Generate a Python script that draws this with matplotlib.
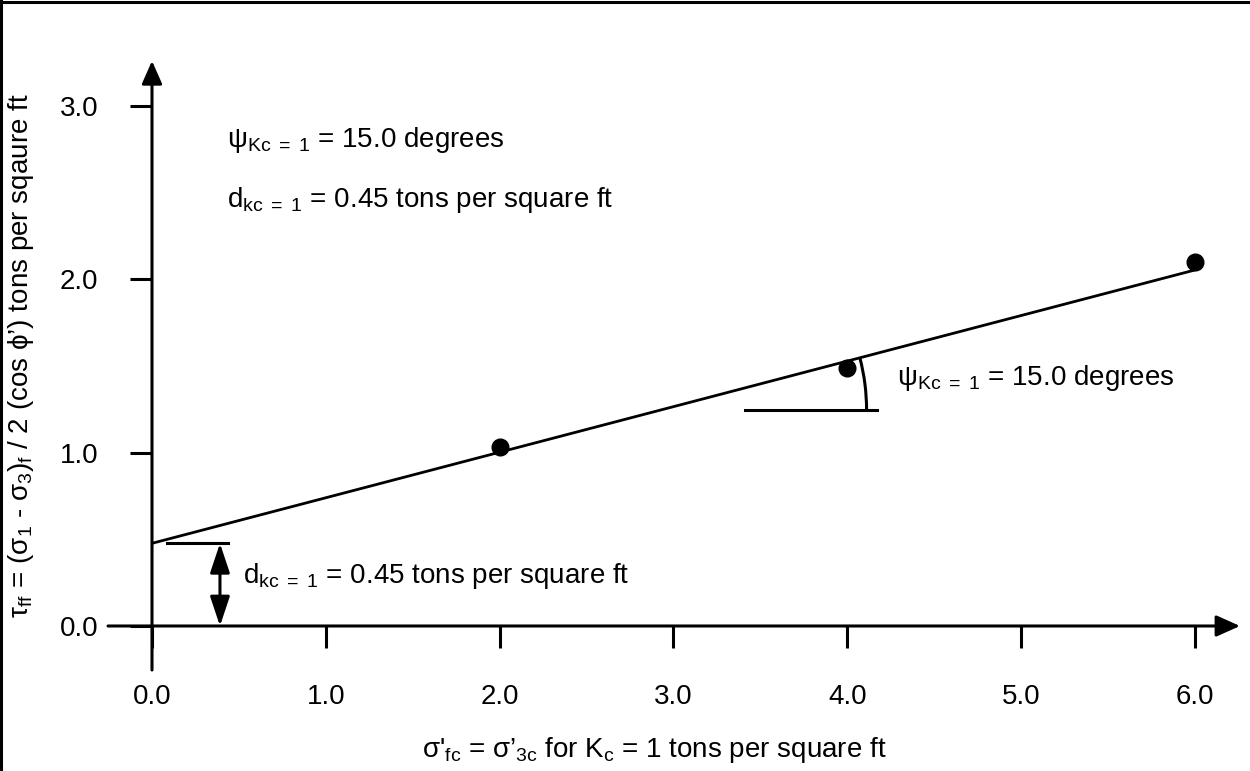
import numpy as np
import matplotlib
matplotlib.use('Agg')
import matplotlib.pyplot as plt
from matplotlib.patches import Arc
from matplotlib.lines import Line2D

plt.rcParams['font.family'] = ['Liberation Sans', 'DejaVu Sans']
plt.rcParams['mathtext.fontset'] = 'custom'
plt.rcParams['mathtext.rm'] = 'Liberation Sans'
plt.rcParams['mathtext.it'] = 'Liberation Sans:italic'
plt.rcParams['mathtext.bf'] = 'Liberation Sans:bold'

# Data
points_x = [2.0, 4.0, 6.0]
points_y = [1.03, 1.49, 2.10]
fit_x = [0.0, 6.0]
fit_y = [0.477, 2.054]
psi_deg = 15.0
d_value = 0.45
x_ticks = [0.0, 1.0, 2.0, 3.0, 4.0, 5.0, 6.0]
y_ticks = [0.0, 1.0, 2.0, 3.0]
tick_labels_x = ['0.0', '1.0', '2.0', '3.0', '4.0', '5.0', '6.0']
tick_labels_y = ['0.0', '1.0', '2.0', '3.0']

FS = 20
LW = 2.2

fig = plt.figure(figsize=(12.5, 7.71), dpi=100)
ax = fig.add_axes([0, 0, 1, 1])
ax.set_xlim(-0.8744, 6.3166)
ax.set_ylim(-0.8366, 3.6116)
ax.patch.set_visible(False)

for s in ['top', 'right']:
    ax.spines[s].set_visible(False)
ax.spines['left'].set_position(('data', 0))
ax.spines['bottom'].set_position(('data', 0))
ax.spines['left'].set_visible(False)
ax.spines['bottom'].set_visible(False)

ax.set_xticks(x_ticks)
ax.set_xticklabels(tick_labels_x)
ax.set_yticks(y_ticks)
ax.set_yticklabels(tick_labels_y)
ax.tick_params(axis='x', direction='out', length=15.8, width=LW, pad=26, labelsize=FS)
ax.tick_params(axis='y', direction='out', length=15.8, width=LW, pad=23, labelsize=FS)

# axes with arrow heads
ax.annotate('', xy=(6.259, 0), xytext=(-0.253, 0),
            arrowprops=dict(arrowstyle='-|>,head_length=1.45,head_width=0.65',
                            mutation_scale=10, lw=LW, color='black',
                            shrinkA=0, shrinkB=0))
ax.annotate('', xy=(0, 3.26), xytext=(0, -0.254),
            arrowprops=dict(arrowstyle='-|>,head_length=1.4,head_width=0.62',
                            mutation_scale=10, lw=LW, color='black',
                            shrinkA=0, shrinkB=0))

# fitted line and points
ax.plot(fit_x, fit_y, color='black', lw=2.0, solid_capstyle='butt')
ax.plot(points_x, points_y, 'o', color='black', markersize=12)

# intercept marker
ax.plot([0.086, 0.437], [fit_y[0], fit_y[0]], color='black', lw=LW)
ax.annotate('', xy=(0.391, fit_y[0]), xytext=(0.391, 0),
            arrowprops=dict(arrowstyle='<|-|>,head_length=1.8,head_width=0.6',
                            mutation_scale=10, lw=LW, color='black',
                            shrinkA=0, shrinkB=0))

# angle marker
slope = (fit_y[1] - fit_y[0]) / (fit_x[1] - fit_x[0])
base_y = 1.246
vx = (base_y - fit_y[0]) / slope
ax.plot([3.41, 4.17], [base_y, base_y], color='black', lw=LW)
ang = np.degrees(np.arctan(slope * 173.33 / 173.83))
ax.add_patch(Arc((vx, base_y), 2 * 1.185, 2 * 1.189, theta1=0, theta2=ang,
                 color='black', lw=LW))

# annotations
psi_txt = 'ψ$_{\\mathrm{Kc\\ {=}\\ 1}}$ = %.1f degrees' % psi_deg
d_txt = 'd$_{\\mathrm{kc\\ {=}\\ 1}}$ = %.2f tons per square ft' % d_value
ax.text(0.431, 2.764, psi_txt, fontsize=FS, va='baseline', ha='left')
ax.text(0.431, 2.417, d_txt, fontsize=FS, va='baseline', ha='left')
ax.text(4.286, 1.390, psi_txt, fontsize=FS, va='baseline', ha='left')
ax.text(0.523, 0.248, d_txt, fontsize=FS, va='baseline', ha='left')

# axis labels
fig.text(654 / 1250, 1 - 757 / 771,
         "σ'$_{\\mathrm{fc}}$ = σ’$_{\\mathrm{3c}}$ for K$_{\\mathrm{c}}$ = 1 tons per square ft",
         fontsize=FS, ha='center', va='baseline')
fig.text(21 / 1250, 1 - 356 / 771,
         "τ$_{\\mathrm{ff}}$ = (σ$_{\\mathrm{1}}$ - σ$_{\\mathrm{3}}$)$_{\\mathrm{f}}$ / 2 (cos ϕ’) tons per sqaure ft",
         fontsize=FS, ha='center', va='center', rotation=90)

# figure border (left and top visible)
fig.add_artist(Line2D([0.0012, 0.0012], [0, 1], transform=fig.transFigure, color='black', lw=2.2))
fig.add_artist(Line2D([0, 1], [0.998, 0.998], transform=fig.transFigure, color='black', lw=2.2))

fig.savefig('out.png', dpi=100)
